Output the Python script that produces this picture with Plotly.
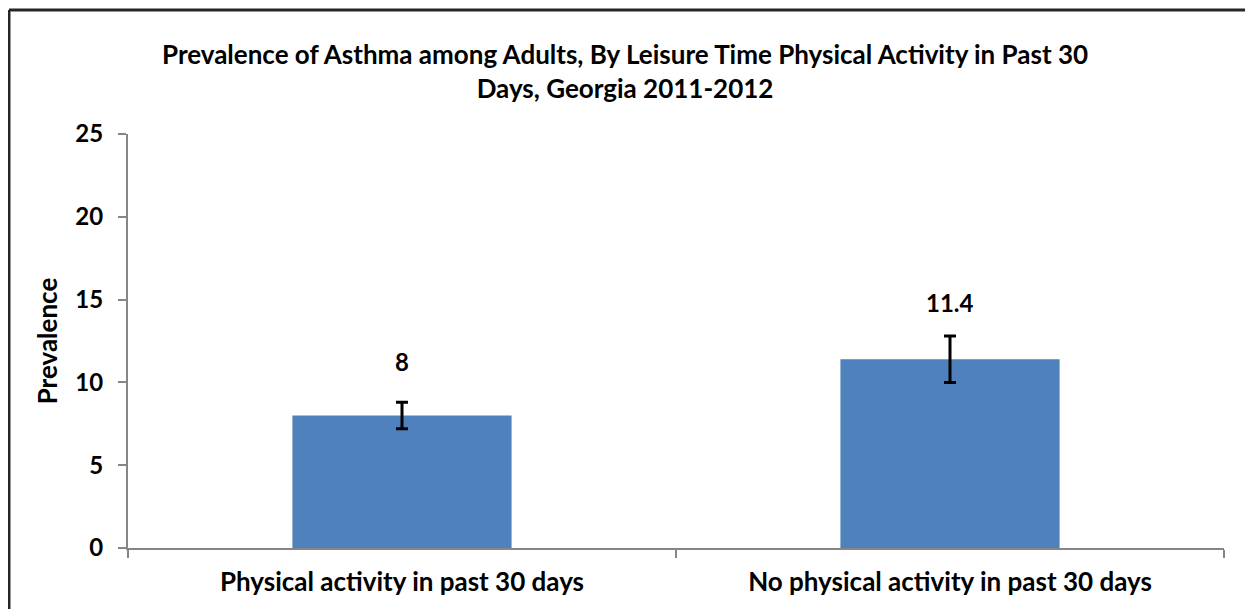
import plotly.graph_objects as go

categories = ["Physical activity in past 30 days", "No physical activity in past 30 days"]
prevalence = [8, 11.4]
err_plus = [0.8, 1.4]
err_minus = [0.8, 1.4]
value_labels = ["8", "11.4"]
y_ticks = [0, 5, 10, 15, 20, 25]

title_text = ("Prevalence of Asthma among Adults, By Leisure Time Physical Activity in Past 30<br>"
              "Days, Georgia 2011-2012")

FONT = "Lato, 'Open Sans', sans-serif"

fig = go.Figure()
fig.add_trace(go.Bar(
    x=categories,
    y=prevalence,
    width=0.4,
    marker=dict(color="#4F81BD", line=dict(width=0)),
    error_y=dict(type="data", symmetric=False, array=err_plus, arrayminus=err_minus,
                 color="black", thickness=3, width=6),
    showlegend=False,
    hoverinfo="skip",
))

for c, v, lab, ys in zip(categories, prevalence, value_labels, [54, 57]):
    fig.add_annotation(x=c, y=v, text="<b>%s</b>" % lab, showarrow=False,
                       yshift=ys, font=dict(size=24, color="black", family=FONT))

# chart title as an annotation (two lines)
fig.add_annotation(xref="paper", yref="paper", x=0.4535, y=1.152,
                   xanchor="center", yanchor="middle", showarrow=False,
                   text="<b>" + title_text + "</b>",
                   font=dict(size=26, color="black", family=FONT))

fig.update_layout(
    width=1253, height=609,
    margin=dict(l=120, r=37, t=126, b=69),
    paper_bgcolor="white", plot_bgcolor="white",
    font=dict(family=FONT, color="black"),
    bargap=0.6,
)

fig.update_yaxes(
    range=[0, 25], tickvals=y_ticks, ticktext=["<b>%d</b>" % t for t in y_ticks],
    tickfont=dict(size=24, color="black", family=FONT),
    showgrid=False, zeroline=False,
    showline=True, linecolor="#868686", linewidth=2,
    ticks="outside", ticklen=8, tickcolor="#868686", tickwidth=2,
    ticklabelstandoff=10,
    title=dict(text="<b>Prevalence</b>", font=dict(size=26, color="black", family=FONT), standoff=10),
)
fig.update_xaxes(
    tickvals=categories, ticktext=["<b>%s</b>" % c for c in categories],
    tickfont=dict(size=26, color="black", family=FONT),
    showgrid=False, zeroline=False,
    showline=True, linecolor="#868686", linewidth=2,
    ticks="outside", ticklen=8, tickcolor="#868686", tickwidth=2,
    tickson="boundaries",
    ticklabelstandoff=10,
)

# outer chart frame
fig.add_shape(type="line", xref="paper", yref="paper",
              x0=-0.1086, x1=1.04, y0=1.2995, y1=1.2995,
              line=dict(color="#262626", width=3))
fig.add_shape(type="line", xref="paper", yref="paper",
              x0=-0.1086, x1=-0.1086, y0=1.2995, y1=-0.3,
              line=dict(color="#262626", width=3))
fig.add_shape(type="line", xref="paper", yref="paper",
              x0=1.0246, x1=1.0246, y0=1.2995, y1=-0.3,
              line=dict(color="#E0E0E0", width=1))

fig.write_html("out.html")
